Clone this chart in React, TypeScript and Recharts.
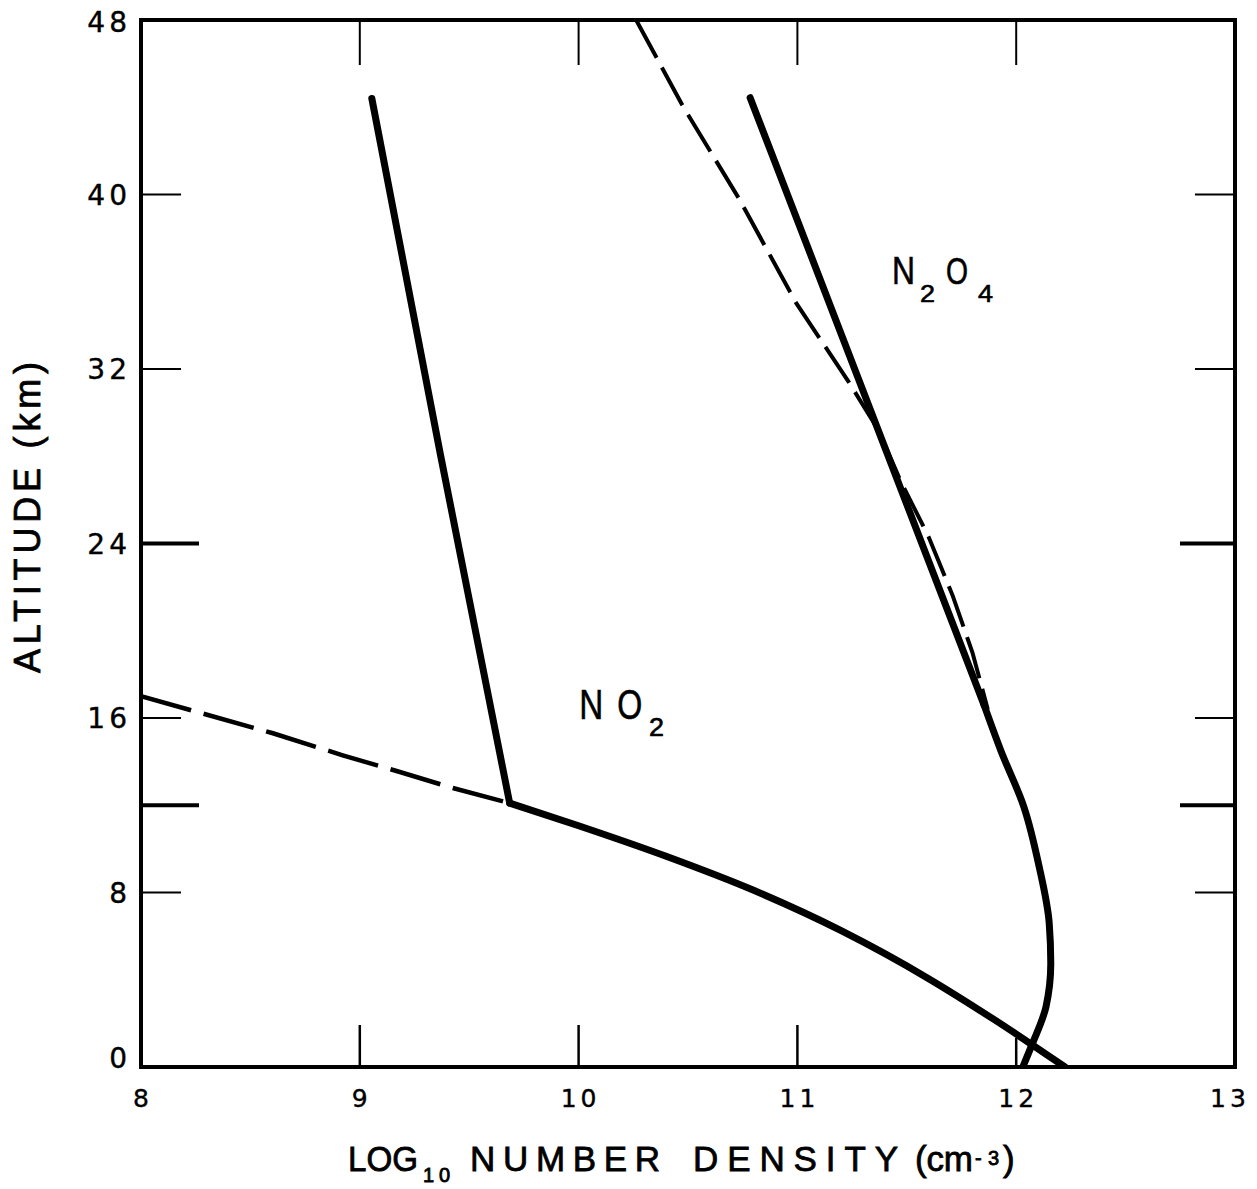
import React from 'react';
import { LineChart, Line, XAxis, YAxis, ReferenceDot } from 'recharts';

// ---- axes ----
const xDomain = [8, 13];
const yDomain = [0, 48];
const xLabelTicks = [8, 9, 10, 11, 12, 13];
const xInnerTicks = [9, 10, 11, 12];
const yLabelTicks = [0, 8, 16, 24, 32, 40, 48];
const yAllTicks = [0, 8, 12, 16, 24, 32, 40, 48];
const yInnerTicks = [8, 12, 16, 24, 32, 40];
const yMajorTicks = [12, 24];

// ---- series (x = log10 number density, y = altitude km) ----
const no2Upper = [
  { x: 9.055, y: 44.4 },
  { x: 9.37, y: 28.0 },
  { x: 9.685, y: 12.1 },
];
const no2Lower = [
  { x: 9.685, y: 12.1 },
  { x: 10.0, y: 11.06 },
  { x: 10.4, y: 9.66 },
  { x: 10.8, y: 8.1 },
  { x: 11.2, y: 6.25 },
  { x: 11.6, y: 4.05 },
  { x: 11.9, y: 2.17 },
  { x: 12.223, y: 0 },
];
const no2Dashed = [
  { x: 8.0, y: 17.0 },
  { x: 8.277, y: 16.22 },
  { x: 8.603, y: 15.3 },
  { x: 8.922, y: 14.29 },
  { x: 9.168, y: 13.57 },
  { x: 9.425, y: 12.79 },
  { x: 9.685, y: 12.1 },
];
const n2o4Upper = [
  { x: 10.784, y: 44.44 },
  { x: 11.853, y: 16.6 },
];
const n2o4Lower = [
  { x: 12.03, y: 0 },
  { x: 12.074, y: 1.07 },
  { x: 12.136, y: 2.75 },
  { x: 12.158, y: 4.74 },
  { x: 12.151, y: 6.58 },
  { x: 12.105, y: 9.18 },
  { x: 12.035, y: 11.93 },
  { x: 11.93, y: 14.5 },
  { x: 11.853, y: 16.6 },
];
const n2o4Dashed = [
  { x: 10.263, y: 48 },
  { x: 10.476, y: 44.06 },
  { x: 10.735, y: 39.78 },
  { x: 10.994, y: 35.03 },
  { x: 11.235, y: 31.4 },
  { x: 11.37, y: 29.2 },
  { x: 11.47, y: 26.9 },
  { x: 11.6, y: 24.3 },
  { x: 11.71, y: 21.6 },
  { x: 11.8, y: 19.0 },
  { x: 11.87, y: 16.4 },
];

// label anchors (data coordinates)
const no2LabelAt = { x: 10.007, y: 15.9 };
const n2o4LabelAt = { x: 11.437, y: 35.85 };

const INK = '#000';
const TICK_FONT = '"DejaVu Sans", sans-serif';
const TITLE_FONT = '"Liberation Sans", Arial, sans-serif';
const LEFT_GAP = 14;
const BOTTOM_GAP = 40;

function LeftTick(props: any) {
  const { x, y, payload } = props;
  const v = payload.value;
  const ax = x + LEFT_GAP;
  const major = yMajorTicks.includes(v);
  return (
    <g>
      {yInnerTicks.includes(v) && (
        <line x1={ax} x2={ax + (major ? 58 : 40)} y1={y} y2={y} stroke={INK} strokeWidth={major ? 4 : 2} />
      )}
      {yLabelTicks.includes(v) && (
        <text x={x + 4} y={v === 0 ? y - 9 : y + (v === 48 ? 2 : 0)} dy="0.36em" textAnchor="end" fontFamily={TICK_FONT}
          fontSize={28} letterSpacing={4} fill={INK} stroke={INK} strokeWidth={0.4}>
          {v}
        </text>
      )}
    </g>
  );
}

function RightTick(props: any) {
  const { x, y, payload } = props;
  const v = payload.value;
  const major = yMajorTicks.includes(v);
  return <line x1={x} x2={x - (major ? 55 : 40)} y1={y} y2={y} stroke={INK} strokeWidth={major ? 4 : 2} />;
}

function TopTick(props: any) {
  const { x, y } = props;
  return <line x1={x} x2={x} y1={y} y2={y + 45} stroke={INK} strokeWidth={2} />;
}

function BottomTick(props: any) {
  const { x, y, payload } = props;
  const v = payload.value;
  const ay = y - BOTTOM_GAP;
  return (
    <g>
      {xInnerTicks.includes(v) && (
        <line x1={x} x2={x} y1={ay} y2={ay - (v === 12 ? 29 : 42)} stroke={INK} strokeWidth={2.5} />
      )}
      <text x={v === 13 ? x - 5 : x + 2} y={y} textAnchor="middle" fontFamily={TICK_FONT} fontSize={25}
        letterSpacing={4} fill={INK} stroke={INK} strokeWidth={0.4}>
        {v}
      </text>
    </g>
  );
}

function XTitle(props: any) {
  const vb = props.viewBox;
  const cx = vb.x + vb.width / 2 - 8;
  const base = vb.y + 104;
  const common: any = { fontFamily: TITLE_FONT, fill: INK, stroke: INK, strokeWidth: 0.8 };
  return (
    <g>
      <text x={cx - 332} y={base} fontSize={35} textLength={70} lengthAdjust="spacingAndGlyphs" {...common}>LOG</text>
      <text x={cx - 257} y={base + 11} fontSize={20} textLength={27} lengthAdjust="spacing" {...common}>10</text>
      <text x={cx - 210} y={base} fontSize={35} textLength={190} lengthAdjust="spacing" {...common}>NUMBER</text>
      <text x={cx + 13} y={base} fontSize={35} textLength={205} lengthAdjust="spacing" {...common}>DENSITY</text>
      <text x={cx + 235} y={base} fontSize={35} textLength={58} lengthAdjust="spacing" {...common}>(cm</text>
      <text x={cx + 295} y={base - 6} fontSize={20} textLength={24} lengthAdjust="spacing" {...common}>-3</text>
      <text x={cx + 323} y={base} fontSize={35} {...common}>)</text>
    </g>
  );
}

function YTitle(props: any) {
  const vb = props.viewBox;
  const bx = vb.x + 32;
  const cy = vb.y + vb.height / 2 - 26;
  return (
    <text
      x={bx}
      y={cy}
      transform={`rotate(-90, ${bx}, ${cy})`}
      textAnchor="middle"
      fontFamily={TITLE_FONT}
      fontSize={36}
      textLength={311}
      lengthAdjust="spacing"
      fill={INK}
      stroke={INK}
      strokeWidth={0.8}
    >
      ALTITUDE (km)
    </text>
  );
}

function NO2Label(props: any) {
  const { x, y } = props.viewBox;
  const c: any = { fontFamily: TITLE_FONT, fill: INK, stroke: INK, strokeWidth: 0.6, lengthAdjust: 'spacingAndGlyphs' };
  return (
    <g>
      <text x={x} y={y} fontSize={42} textLength={24} {...c}>N</text>
      <text x={x + 38} y={y} fontSize={42} textLength={25} {...c}>O</text>
      <text x={x + 70} y={y + 17} fontSize={25} textLength={15} {...c}>2</text>
    </g>
  );
}

function N2O4Label(props: any) {
  const { x, y } = props.viewBox;
  const c: any = { fontFamily: TITLE_FONT, fill: INK, stroke: INK, strokeWidth: 0.6, lengthAdjust: 'spacingAndGlyphs' };
  return (
    <g>
      <text x={x} y={y} fontSize={39} textLength={23} {...c}>N</text>
      <text x={x + 28} y={y + 18} fontSize={23} textLength={15} {...c}>2</text>
      <text x={x + 54} y={y} fontSize={37} textLength={22} {...c}>O</text>
      <text x={x + 86} y={y + 18} fontSize={23} textLength={15} {...c}>4</text>
    </g>
  );
}

const axisLineStyle: any = { stroke: INK, strokeWidth: 4, strokeLinecap: 'square' };

export default function App() {
  return (
    <div style={{ width: 1249, height: 1189, marginTop: -8, background: '#fff' }}>
      <LineChart width={1249} height={1189} margin={{ top: 19, right: 21, bottom: 0, left: 0 }}>
        <XAxis
          xAxisId="b"
          type="number"
          dataKey="x"
          domain={xDomain}
          ticks={xLabelTicks}
          interval={0}
          orientation="bottom"
          height={122}
          tickSize={0}
          tickMargin={BOTTOM_GAP}
          tickLine={false}
          axisLine={axisLineStyle}
          tick={BottomTick}
          allowDataOverflow
          label={<XTitle />}
        />
        <XAxis
          xAxisId="t"
          type="number"
          dataKey="x"
          domain={xDomain}
          ticks={xInnerTicks}
          interval={0}
          orientation="top"
          height={1}
          tickSize={0}
          tickMargin={0}
          tickLine={false}
          axisLine={axisLineStyle}
          tick={TopTick}
          allowDataOverflow
        />
        <YAxis
          yAxisId="l"
          type="number"
          dataKey="y"
          domain={yDomain}
          ticks={yAllTicks}
          interval={0}
          orientation="left"
          width={133}
          tickSize={0}
          tickMargin={LEFT_GAP}
          tickLine={false}
          axisLine={axisLineStyle}
          tick={LeftTick}
          allowDataOverflow
          label={<YTitle />}
        />
        <YAxis
          yAxisId="r"
          type="number"
          dataKey="y"
          domain={yDomain}
          ticks={yInnerTicks}
          interval={0}
          orientation="right"
          width={1}
          tickSize={0}
          tickMargin={0}
          tickLine={false}
          axisLine={axisLineStyle}
          tick={RightTick}
          allowDataOverflow
        />
        <Line xAxisId="b" yAxisId="l" data={no2Dashed} dataKey="y" type="linear" stroke={INK} strokeWidth={4.5}
          strokeDasharray="52 13" dot={false} activeDot={false} isAnimationActive={false} />
        <Line xAxisId="b" yAxisId="l" data={n2o4Dashed} dataKey="y" type="linear" stroke={INK} strokeWidth={4}
          strokeDasharray="43 11" dot={false} activeDot={false} isAnimationActive={false} />
        <Line xAxisId="b" yAxisId="l" data={no2Upper} dataKey="y" type="linear" stroke={INK} strokeWidth={7}
          strokeLinecap="round" strokeLinejoin="round" dot={false} activeDot={false} isAnimationActive={false} />
        <Line xAxisId="b" yAxisId="l" data={no2Lower} dataKey="y" type="monotoneX" stroke={INK} strokeWidth={7}
          strokeLinecap="round" strokeLinejoin="round" dot={false} activeDot={false} isAnimationActive={false} />
        <Line xAxisId="b" yAxisId="l" data={n2o4Upper} dataKey="y" type="linear" stroke={INK} strokeWidth={7}
          strokeLinecap="round" strokeLinejoin="round" dot={false} activeDot={false} isAnimationActive={false} />
        <Line xAxisId="b" yAxisId="l" data={n2o4Lower} dataKey="y" type="monotoneY" stroke={INK} strokeWidth={7}
          strokeLinecap="round" strokeLinejoin="round" dot={false} activeDot={false} isAnimationActive={false} />
        <ReferenceDot xAxisId="b" yAxisId="l" x={no2LabelAt.x} y={no2LabelAt.y} r={1} fill="none" stroke="none"
          ifOverflow="visible" label={<NO2Label />} />
        <ReferenceDot xAxisId="b" yAxisId="l" x={n2o4LabelAt.x} y={n2o4LabelAt.y} r={1} fill="none" stroke="none"
          ifOverflow="visible" label={<N2O4Label />} />
      </LineChart>
    </div>
  );
}
